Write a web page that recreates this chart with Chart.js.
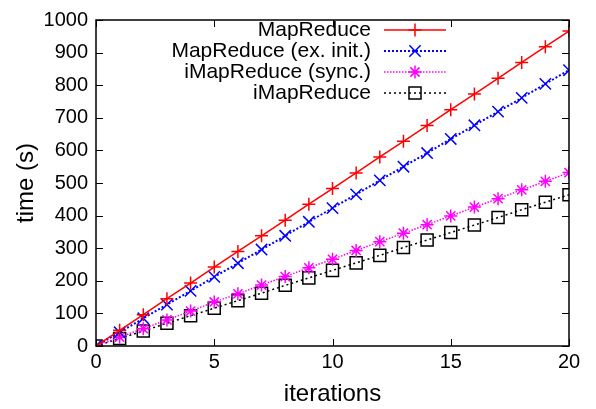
<!DOCTYPE html>
<html>
<head>
<meta charset="utf-8">
<script src="https://cdn.jsdelivr.net/npm/chart.js@4"></script>
<style>
	html, body { margin: 0; padding: 0; background: #fff; }
	#wrap { width: 596px; height: 409px; }
</style>
</head>
<body>
<div id="wrap"><canvas id="timeChart" width="596" height="409"></canvas></div>
<script>
// iterations on the x axis
const iterations = [0, 1, 2, 3, 4, 5, 6, 7, 8, 9, 10, 11, 12, 13, 14, 15, 16, 17, 18, 19, 20];

// running time (s) per series
const mapReduce = [0, 48, 96, 145, 193, 242, 290, 338, 386, 435, 483, 531, 580, 628, 676, 725, 773, 821, 870, 918, 966];
const mapReduceExInit = [0, 42, 85, 127, 169, 212, 254, 296, 338, 381, 423, 465, 508, 550, 592, 635, 677, 719, 761, 804, 846];
const iMapReduceSync = [0, 27, 53, 80, 107, 135, 160, 187, 213, 240, 266, 293, 320, 346, 372, 399, 426, 452, 479, 505, 532];
const iMapReduce = [0, 23, 46, 70, 93, 116, 139, 162, 186, 209, 232, 255, 278, 302, 325, 348, 371, 394, 418, 441, 464];

const seriesLabels = ["MapReduce", "MapReduce (ex. init.)", "iMapReduce (sync.)", "iMapReduce"];

const FONT = "'Liberation Sans', Arial, Helvetica, sans-serif";

function toXY(vals) {
	return vals.map((v, i) => ({ x: iterations[i], y: v }));
}

// gnuplot-style inward tick marks on all four sides
const insideTicks = {
	id: "insideTicks",
	afterDraw(chart) {
		const ctx = chart.ctx;
		const a = chart.chartArea;
		const xs = chart.scales.x;
		const ys = chart.scales.y;
		const len = 7;
		ctx.save();
		ctx.strokeStyle = "#000";
		ctx.lineWidth = 1;
		ctx.beginPath();
		xs.ticks.forEach((t) => {
			const px = Math.round(xs.getPixelForValue(t.value)) + 0.5;
			ctx.moveTo(px, a.bottom);
			ctx.lineTo(px, a.bottom - len);
			ctx.moveTo(px, a.top);
			ctx.lineTo(px, a.top + len);
		});
		ys.ticks.forEach((t) => {
			const py = Math.round(ys.getPixelForValue(t.value)) + 0.5;
			ctx.moveTo(a.left, py);
			ctx.lineTo(a.left + len, py);
			ctx.moveTo(a.right, py);
			ctx.lineTo(a.right - len, py);
		});
		ctx.stroke();
		ctx.lineWidth = 1.5;
		ctx.strokeRect(a.left, a.top, a.right - a.left, a.bottom - a.top);
		ctx.restore();
	},
};

// key in the top right, text right-aligned with a line sample after it
const gnuKey = {
	id: "gnuKey",
	afterDatasetsDraw(chart) {
		const ctx = chart.ctx;
		const textRight = 371;
		const x0 = 384;
		const x1 = 446;
		ctx.save();
		chart.data.datasets.forEach((ds, i) => {
			const y = 30 + i * 21;
			ctx.fillStyle = "#000";
			ctx.font = "21px " + FONT;
			ctx.textAlign = "right";
			ctx.textBaseline = "middle";
			ctx.fillText(ds.label, textRight, y);

			ctx.strokeStyle = ds.borderColor;
			ctx.lineWidth = ds.borderWidth;
			ctx.setLineDash(ds.borderDash || []);
			ctx.beginPath();
			ctx.moveTo(x0, y);
			ctx.lineTo(x1, y);
			ctx.stroke();
			ctx.setLineDash([]);

			ctx.strokeStyle = ds.pointBorderColor;
			ctx.fillStyle = "rgba(0,0,0,0)";
			ctx.lineWidth = ds.pointBorderWidth;
			Chart.helpers.drawPoint(ctx, {
				pointStyle: ds.pointStyle,
				radius: ds.pointRadius,
				rotation: 0,
				borderWidth: ds.pointBorderWidth,
			}, (x0 + x1) / 2, y);
		});
		ctx.restore();
	},
};

const ctx = document.getElementById("timeChart").getContext("2d");

const timeChart = new Chart(ctx, {
	type: "line",
	data: {
		datasets: [
			{
				label: seriesLabels[0],
				data: toXY(mapReduce),
				borderColor: "#ff0000",
				borderWidth: 1.5,
				pointStyle: "cross",
				pointRadius: 6.5,
				pointBorderColor: "#ff0000",
				pointBorderWidth: 1.5,
			},
			{
				label: seriesLabels[1],
				data: toXY(mapReduceExInit),
				borderColor: "#0000ff",
				borderWidth: 2,
				borderDash: [2, 2],
				pointStyle: "crossRot",
				pointRadius: 8,
				pointBorderColor: "#0000ff",
				pointBorderWidth: 1.5,
			},
			{
				label: seriesLabels[2],
				data: toXY(iMapReduceSync),
				borderColor: "#ff00ff",
				borderWidth: 1.5,
				borderDash: [1.5, 1.5],
				pointStyle: "star",
				pointRadius: 6.5,
				pointBorderColor: "#ff00ff",
				pointBorderWidth: 1.5,
			},
			{
				label: seriesLabels[3],
				data: toXY(iMapReduce),
				borderColor: "#000000",
				borderWidth: 1.5,
				borderDash: [2, 3],
				pointStyle: "rect",
				pointRadius: 8.5,
				pointBorderColor: "#000000",
				pointBackgroundColor: "rgba(0,0,0,0)",
				pointBorderWidth: 1.5,
			},
		],
	},
	options: {
		responsive: false,
		animation: false,
		devicePixelRatio: 1,
		layout: { padding: { left: 10, right: 27, top: 14, bottom: 0 } },
		plugins: {
			legend: { display: false },
			tooltip: { enabled: false },
		},
		elements: {
			line: { tension: 0, fill: false },
			point: { backgroundColor: "rgba(0,0,0,0)" },
		},
		scales: {
			x: {
				type: "linear",
				min: 0,
				max: 20,
				ticks: {
					stepSize: 5,
					color: "#000",
					font: { family: FONT, size: 20 },
					padding: 4,
				},
				grid: { display: false, drawTicks: false },
				border: { display: false },
				title: {
					display: true,
					text: "iterations",
					color: "#000",
					font: { family: FONT, size: 24 },
					padding: { top: 2, bottom: 0 },
				},
				afterFit(scale) {
					scale.height = 63;
				},
			},
			y: {
				min: 0,
				max: 1000,
				ticks: {
					stepSize: 100,
					color: "#000",
					font: { family: FONT, size: 20 },
					padding: 8,
					callback: (v) => String(v),
				},
				grid: { display: false, drawTicks: false },
				border: { display: false },
				title: {
					display: true,
					text: "time (s)",
					color: "#000",
					font: { family: FONT, size: 24 },
					padding: { top: 2, bottom: 2 },
				},
				afterFit(scale) {
					scale.width = 86;
				},
			},
		},
	},
	plugins: [insideTicks, gnuKey],
});
</script>
</body>
</html>
